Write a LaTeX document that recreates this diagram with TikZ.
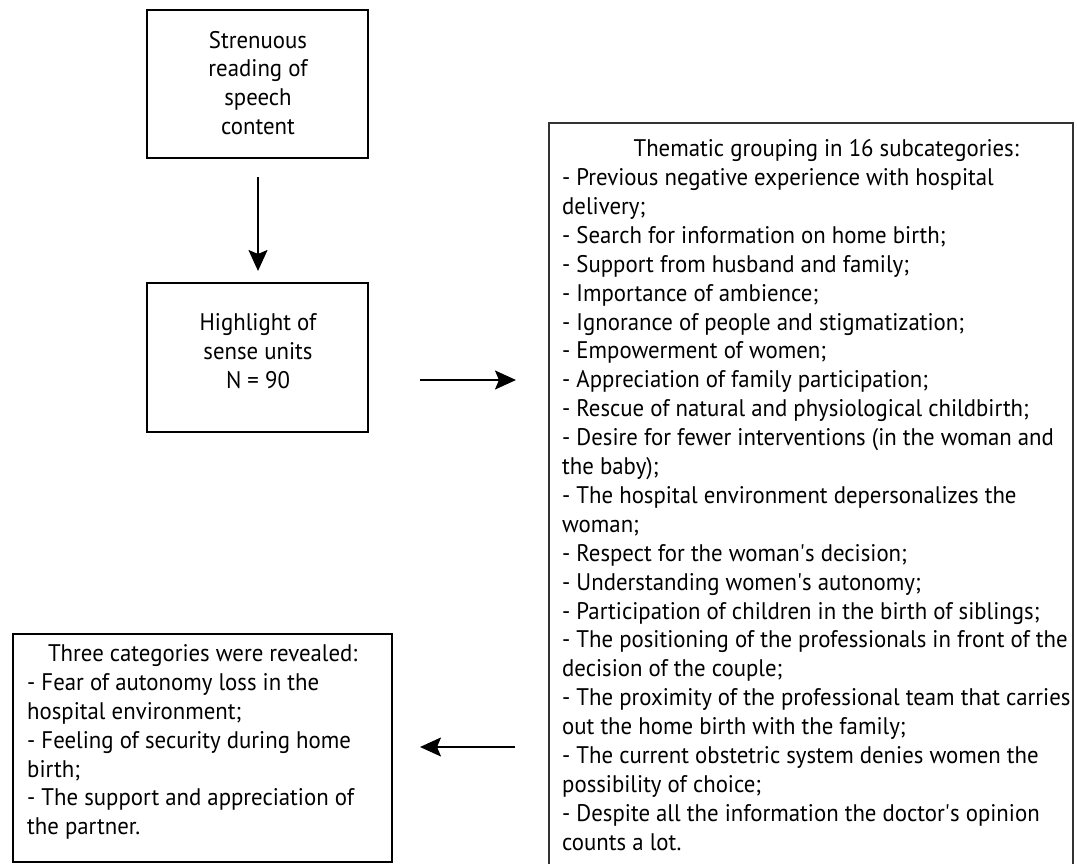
\documentclass[tikz,border=0pt]{standalone}
\usepackage{fontspec}
\setmainfont{PT Sans}[FakeStretch=0.95]
\usetikzlibrary{arrows.meta}
\newcommand{\apo}{\textquotesingle}
\tikzset{
  thickbox/.style={draw=black, line width=2.4pt, inner sep=0pt},
  thinbox/.style={draw=black!80, line width=1.2pt, inner sep=0pt},
  txt/.style={inner sep=0pt, font=\fontsize{24}{28.9}\selectfont},
  arr/.style={line width=2pt, -{Stealth[length=21pt,width=19pt,inset=4pt]}},
}
\begin{document}
\begin{tikzpicture}[x=1pt,y=-1pt]
\useasboundingbox[fill=white] (0,0) rectangle (1077,864);
% boxes
\node[thickbox, minimum width=221pt, minimum height=148pt] (b1) at (257.5,84) {};
\node[thickbox, minimum width=221pt, minimum height=149pt] (b2) at (257.5,357.5) {};
\node[thinbox, minimum width=524pt, minimum height=760pt] (b4) at (811,503) {};
\node[thickbox, minimum width=379pt, minimum height=228pt] (b3) at (202.5,748) {};
% texts
\node[txt, align=center] (t1) at (258,83) {Strenuous\\reading of\\speech\\content};
\node[txt, align=center] (t2) at (258,351) {Highlight of\\sense units\\N = 90};
\node[txt, align=left, anchor=west] (t4) at (562,495) {%
\makebox[528pt][c]{Thematic grouping in 16 subcategories:}\\
- Previous negative experience with hospital\\
delivery;\\
- Search for information on home birth;\\
- Support from husband and family;\\
- Importance of ambience;\\
- Ignorance of people and stigmatization;\\
- Empowerment of women;\\
- Appreciation of family participation;\\
- Rescue of natural and physiological childbirth;\\
- Desire for fewer interventions (in the woman and\\
the baby);\\
- The hospital environment depersonalizes the\\
woman;\\
- Respect for the woman\apo s decision;\\
- Understanding women\apo s autonomy;\\
- Participation of children in the birth of siblings;\\
- The positioning of the professionals in front of the\\
decision of the couple;\\
- The proximity of the professional team that carries\\
out the home birth with the family;\\
- The current obstetric system denies women the\\
possibility of choice;\\
- Despite all the information the doctor\apo s opinion\\
counts a lot.};
\node[txt, align=left, anchor=west] (t3) at (27,742) {%
\makebox[351pt][c]{Three categories were revealed:}\\
- Fear of autonomy loss in the\\
hospital environment;\\
- Feeling of security during home\\
birth;\\
- The support and appreciation of\\
the partner.};
% arrow end points
\coordinate (a1s) at (258,177);
\coordinate (a1e) at (258,271);
\coordinate (a2s) at (420,380);
\coordinate (a2e) at (516,380);
\coordinate (a3s) at (515,747);
\coordinate (a3e) at (420,747);
\draw[arr] (a1s) -- (a1e);
\draw[arr] (a2s) -- (a2e);
\draw[arr] (a3s) -- (a3e);
\end{tikzpicture}
\end{document}
